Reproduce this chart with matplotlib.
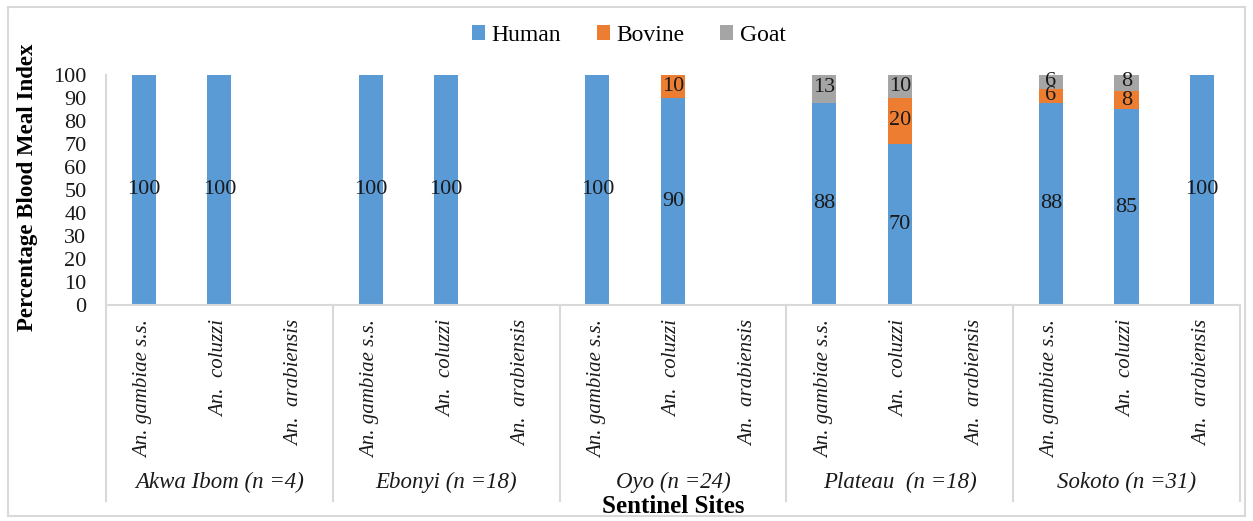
import numpy as np
import matplotlib.pyplot as plt
from matplotlib.patches import Rectangle

plt.rcParams['font.family'] = ['Liberation Serif', 'DejaVu Serif']

# Especies por sitio centinela
species = ['An. gambiae s.s.', 'An.  coluzzi', 'An.  arabiensis'] * 5
sites = ['Akwa Ibom (n =4)', 'Ebonyi (n =18)', 'Oyo (n =24)',
         'Plateau  (n =18)', 'Sokoto (n =31)']

# Indice de alimentacion sanguinea (%)
human = [100, 100, 0, 100, 100, 0, 100, 90, 0, 88, 70, 0, 88, 85, 100]
bovine = [0, 0, 0, 0, 0, 0, 0, 10, 0, 0, 20, 0, 6, 8, 0]
goat = [0, 0, 0, 0, 0, 0, 0, 0, 0, 13, 10, 0, 6, 8, 0]

colors = {'Human': '#5B9BD5', 'Bovine': '#ED7D31', 'Goat': '#A5A5A5'}
grid_col = '#D9D9D9'

fig = plt.figure(figsize=(12.53, 5.21), dpi=100)
ax = fig.add_axes([0.0846, 0.4146, 0.905, 0.4415])

x = np.arange(len(species))
w = 0.32
bottom = np.zeros(len(x))
for name, vals in [('Human', human), ('Bovine', bovine), ('Goat', goat)]:
    vals = np.array(vals, dtype=float)
    ax.bar(x, vals, w, bottom=bottom, color=colors[name], label=name,
           zorder=2)
    for xi, b, v in zip(x, bottom, vals):
        if v > 0:
            ax.text(xi, b + v / 2, f'{v:g}', ha='center', va='center',
                    fontsize=16, color='#1a1a1a', zorder=3)
    bottom += vals

ax.set_xlim(-0.5, len(x) - 0.5)
ax.set_ylim(0, 100)
ax.set_yticks(np.arange(0, 101, 10))
ax.tick_params(axis='y', length=0, labelsize=16, pad=14, labelcolor='#1a1a1a')
ax.set_xticks([])

for s in ['top', 'right']:
    ax.spines[s].set_visible(False)
ax.spines['left'].set_color(grid_col)
ax.spines['bottom'].set_color(grid_col)
ax.spines['left'].set_linewidth(1.5)
ax.spines['bottom'].set_linewidth(1.5)

# Etiquetas de especies y separadores de grupos
trans = ax.get_xaxis_transform()
for xi, sp in zip(x, species):
    ax.text(xi, -0.065, sp, rotation=90, ha='center', va='top',
            fontsize=15, style='italic', color='#1a1a1a', transform=trans)
for g in range(len(sites) + 1):
    ax.plot([g * 3 - 0.5, g * 3 - 0.5], [0, -0.85], color=grid_col, lw=1.5,
            transform=trans, clip_on=False)
for g, site in enumerate(sites):
    ax.text(g * 3 + 1, -0.77, site, ha='center', va='center', fontsize=16.5,
            style='italic', color='#1a1a1a', transform=trans)

ax.text(0.5, -0.875, 'Sentinel Sites', ha='center', va='center', fontsize=18,
        fontweight='bold', transform=ax.transAxes)
fig.text(0.022, 0.64, 'Percentage Blood Meal Index', rotation=90,
         ha='center', va='center', fontsize=16.5, fontweight='bold')

ax.legend(loc='center', bbox_to_anchor=(0.502, 0.932),
          bbox_transform=fig.transFigure, ncol=3, frameon=False, fontsize=17,
          handlelength=0.55, handleheight=0.55, handletextpad=0.3,
          columnspacing=1.5)

# Marco exterior
fig.patches.append(Rectangle((0.0064, 0.01), 0.987, 0.977,
                             transform=fig.transFigure, fill=False,
                             edgecolor=grid_col, lw=1.5))

fig.savefig('out.png', dpi=100)
